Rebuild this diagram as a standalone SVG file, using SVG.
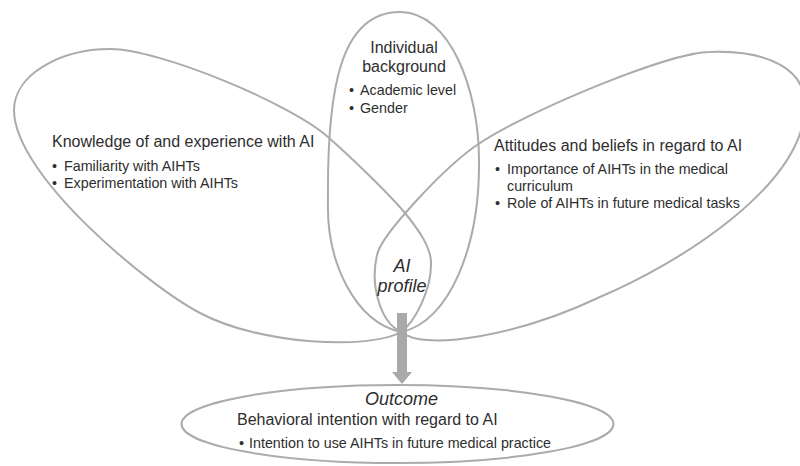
<svg xmlns="http://www.w3.org/2000/svg" width="800" height="466" viewBox="0 0 800 466">
<style>
.shape{fill:none;stroke:#ababab;stroke-width:2}
text{font-family:"Liberation Sans",Arial,sans-serif;fill:#2e2e2e}
.h{font-size:16px}
.b{font-size:14.3px}
.i{font-size:18px;font-style:italic}
.c{text-anchor:middle}
.arrow{fill:#a9a9a9}
</style>
<rect width="800" height="466" fill="#ffffff"/>
<g id="knowledge">
<path class="shape" d="M401,332 C370,350 260,345 200,313 C147,285 14,175 14,110 C14,75 60,49 110,49 C160,49 291,104 328,137 C354,160 389,194 405,213 C418,229 432,248 431,265 C431,290 415,322 401,332 Z"/>
<text class="h" x="52" y="147">Knowledge of and experience with AI</text>
<text class="b" x="52" y="170.5">•</text>
<text class="b" x="64" y="170.5">Familiarity with AIHTs</text>
<text class="b" x="52" y="187.5">•</text>
<text class="b" x="64" y="187.5">Experimentation with AIHTs</text>
</g>
<g id="background">
<path class="shape" d="M401,332 C355,322 326,262 328,200 C327,90 340,12 400,12 C450,12 479,90 479,160 C480,245 450,322 401,332 Z"/>
<text class="h c" x="404" y="53">Individual</text>
<text class="h c" x="404" y="72">background</text>
<text class="b" x="349" y="94.5">•</text>
<text class="b" x="360" y="94.5">Academic level</text>
<text class="b" x="349" y="113">•</text>
<text class="b" x="360" y="113">Gender</text>
</g>
<g id="attitudes">
<path class="shape" d="M401,332 C425,352 520,335 600,297 C680,263 805,185 805,105 C805,70 770,50 710,52 C670,52 530,110 480,143 C446,165 381,235 377,255 C370,285 380,322 401,332 Z"/>
<text class="h" x="494" y="150.5">Attitudes and beliefs in regard to AI</text>
<text class="b" x="495" y="174">•</text>
<text class="b" x="507" y="174">Importance of AIHTs in the medical</text>
<text class="b" x="507" y="191">curriculum</text>
<text class="b" x="495" y="208">•</text>
<text class="b" x="507" y="208">Role of AIHTs in future medical tasks</text>
</g>
<g id="ai-profile">
<text class="i c" x="402" y="272">AI</text>
<text class="i c" x="402" y="292">profile</text>
</g>
<g id="connectors">
<path class="arrow" d="M397,313 H407 V372 H412 L402,384 L392,372 H397 Z"/>
</g>
<g id="outcome">
<ellipse class="shape" cx="397.5" cy="424" rx="216" ry="39"/>
<text class="i c" x="401.5" y="405">Outcome</text>
<text class="h" x="237" y="425">Behavioral intention with regard to AI</text>
<text class="b" x="239" y="448">•</text>
<text class="b" x="249" y="448">Intention to use AIHTs in future medical practice</text>
</g>
</svg>
